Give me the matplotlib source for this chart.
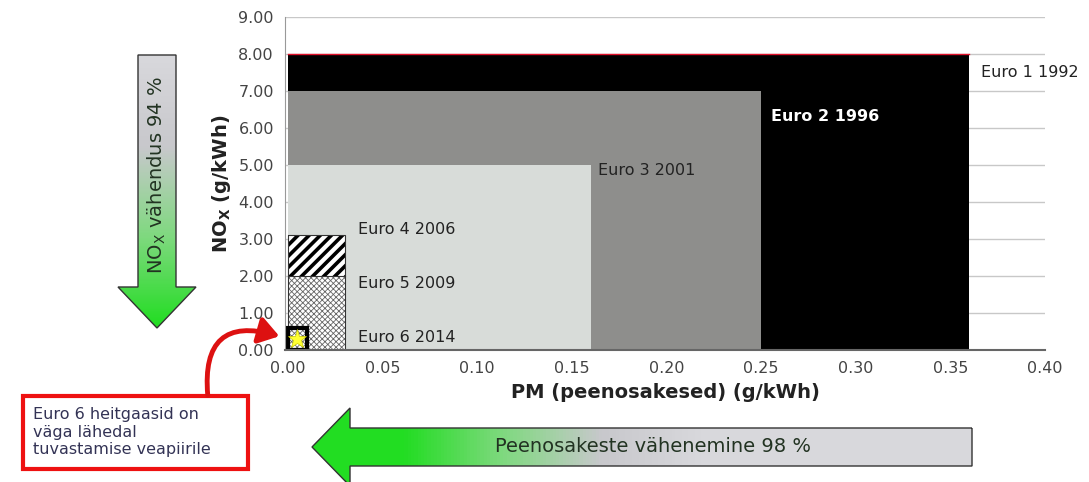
import matplotlib
matplotlib.use('Agg')

import matplotlib.pyplot as plt
import numpy as np
from matplotlib.patches import Rectangle, Polygon, FancyArrowPatch
from matplotlib.colors import LinearSegmentedColormap

# Euro norms: PM limit (g/kWh), NOx limit (g/kWh)
norms = ["Euro 1 1992", "Euro 2 1996", "Euro 3 2001", "Euro 4 2006", "Euro 5 2009", "Euro 6 2014"]
pm_limits = [0.36, 0.25, 0.16, 0.03, 0.03, 0.01]
nox_limits = [8.0, 7.0, 5.0, 3.1, 2.0, 0.6]
label_pos = [(0.366, 7.5), (0.255, 6.3), (0.164, 4.85), (0.037, 3.25), (0.037, 1.8), (0.037, 0.35)]

x_ticks = [0.00, 0.05, 0.10, 0.15, 0.20, 0.25, 0.30, 0.35, 0.40]
y_ticks = [0, 1, 2, 3, 4, 5, 6, 7, 8, 9]

W, H = 1089, 482
fig = plt.figure(figsize=(W / 100, H / 100), dpi=100)
ax = fig.add_axes([285 / W, 1 - 350 / H, 760 / W, 333 / H])

ax.set_xlim(-0.0015, 0.40)
ax.set_ylim(0, 9)
for y in y_ticks[1:]:
	ax.axhline(y, color='#c8c8c8', lw=1, zorder=0)

fills = ['black', '#8e8e8c', '#d8dcd9', 'white', 'white', 'none']
hatches = [None, None, None, '///', 'xxxxxx', None]
hatch_lw = [1, 1, 1, 2.6, 0.6, 1]
for i in range(len(norms)):
	if hatches[i] == '///':
		ec = 'black'
	elif hatches[i] is not None:
		ec = '#666666'
	else:
		ec = fills[i]
	plt.rcParams['hatch.linewidth'] = hatch_lw[i]
	r = Rectangle((0, 0), pm_limits[i], nox_limits[i], facecolor=fills[i],
		edgecolor=ec, hatch=hatches[i], lw=0, zorder=2 + i)
	ax.add_patch(r)

# red top edge on Euro 1
ax.plot([0, pm_limits[0]], [nox_limits[0], nox_limits[0]], color='#e0102a', lw=1, zorder=3)
# outline on Euro 4/5
ax.add_patch(Rectangle((0, 0), pm_limits[3], nox_limits[3], fill=False, ec='#333333', lw=0.8, zorder=9))
ax.plot([0, pm_limits[4]], [nox_limits[4], nox_limits[4]], color='#333333', lw=0.8, zorder=9)
# Euro 6 box
ax.add_patch(Rectangle((0, 0), pm_limits[5], nox_limits[5], fill=False, ec='black', lw=3, zorder=10))
ax.plot([pm_limits[5] / 2], [nox_limits[5] / 2], marker='*', ms=14, color='#ffff33',
	mec='#c8c800', mew=0.5, zorder=11)

for i in range(len(norms)):
	c = 'white' if i == 1 else '#222222'
	w = 'bold' if i == 1 else 'normal'
	ax.text(label_pos[i][0], label_pos[i][1], norms[i], fontsize=11.5, color=c, weight=w,
		va='center', ha='left', zorder=12)

ax.set_xticks(x_ticks)
ax.set_xticklabels(['%.2f' % v for v in x_ticks])
ax.set_yticks(y_ticks)
ax.set_yticklabels(['%.2f' % v for v in y_ticks])
ax.tick_params(length=0, labelsize=11.5, labelcolor='#444444', pad=8)
for s in ['top', 'right']:
	ax.spines[s].set_visible(False)
ax.spines['left'].set_color('#999999')
ax.spines['bottom'].set_color('#666666')
ax.spines['bottom'].set_linewidth(1.5)
ax.spines['left'].set_zorder(20)
ax.spines['bottom'].set_zorder(20)
ax.set_xlabel('PM (peenosakesed) (g/kWh)', fontsize=14, weight='bold', color='#222222', labelpad=5)
ax.set_ylabel('NO$_\\mathregular{X}$ (g/kWh)', fontsize=14, weight='bold', color='#222222', labelpad=4)

# overlay in pixel coordinates for arrows and callout
ov2 = fig.add_axes([0, 0, 1, 1], zorder=30)
ov2.set_xlim(0, W)
ov2.set_ylim(H, 0)
ov2.axis('off')

cmap = LinearSegmentedColormap.from_list('g', ['#22dd22', '#7fd97f', '#c8c8cc', '#d8d8dc'])

# vertical arrow
vpoly = [(138, 55), (176, 55), (176, 287), (196, 287), (157, 328), (118, 287), (138, 287)]
ov2.add_patch(Polygon(vpoly, closed=True, fc='none', ec='#333333', lw=1))
grad = np.linspace(1, 0, 100).reshape(-1, 1)
im = ov2.imshow(grad, cmap=cmap, extent=[118, 196, 328, 55], aspect='auto', vmin=0, vmax=1, zorder=0)
im.set_clip_path(Polygon(vpoly, closed=True, transform=ov2.transData))
ov2.text(157, 175, 'NO$_\\mathregular{X}$ vähendus 94 %', rotation=90, fontsize=14,
	color='#223322', ha='center', va='center')

# horizontal arrow
hpoly = [(972, 428), (972, 466), (350, 466), (350, 486), (312, 447), (350, 408), (350, 428)]
ov2.add_patch(Polygon(hpoly, closed=True, fc='none', ec='#333333', lw=1))
grad = np.linspace(0, 1, 200).reshape(1, -1)
grad = np.clip(grad * 2.2 - 0.3, 0, 1)
im = ov2.imshow(grad, cmap=cmap, extent=[312, 972, 486, 408], aspect='auto', vmin=0, vmax=1, zorder=0)
im.set_clip_path(Polygon(hpoly, closed=True, transform=ov2.transData))
ov2.text(653, 447, 'Peenosakeste vähenemine 98 %', fontsize=14, color='#223322', ha='center', va='center')

# callout box
ov2.add_patch(Rectangle((23, 396), 225, 73, fc='white', ec='#ee1111', lw=3))
ov2.text(33, 432, 'Euro 6 heitgaasid on\nväga lähedal\ntuvastamise veapiirile', fontsize=11.5,
	color='#333355', ha='left', va='center', linespacing=1.2)
arr = FancyArrowPatch((208, 398), (282, 337), connectionstyle='arc3,rad=-0.75',
	arrowstyle='-|>,head_length=6,head_width=4', color='#dd1111', lw=3.5, mutation_scale=2)
ov2.add_patch(arr)

fig.savefig('out.png', dpi=100)
